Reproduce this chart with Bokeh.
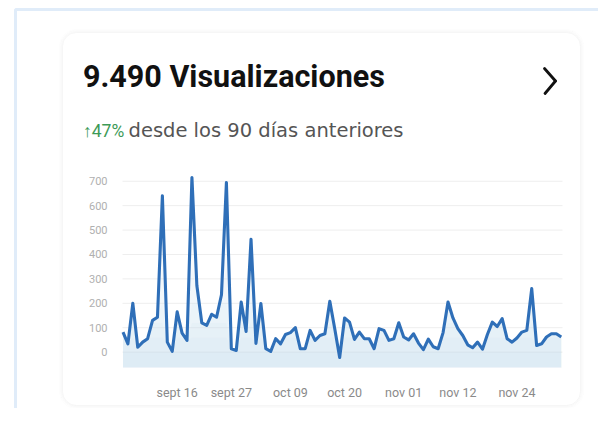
import numpy as np
from bokeh.plotting import figure
from bokeh.models import (Range1d, FixedTicker, Label, BoxAnnotation, Arrow,
                          LinearAxis)
from bokeh.embed import file_html
from bokeh.resources import INLINE

# ---- data ----
views = [82, 34, 200, 20, 41, 55, 130, 143, 640, 41,
         3, 165, 78, 48, 715, 273, 120, 110, 155, 143,
         235, 695, 14, 7, 205, 85, 462, 36, 199, 14,
         3, 55, 34, 72, 80, 100, 14, 14, 89, 48,
         68, 75, 208, 96, -22, 140, 123, 52, 82, 55,
         55, 14, 96, 89, 48, 55, 120, 62, 50, 75,
         37, 10, 53, 22, 14, 80, 205, 140, 96, 68,
         30, 18, 41, 12, 72, 123, 105, 137, 55, 41,
         58, 82, 89, 260, 27, 34, 62, 75, 75, 62]
days = list(range(len(views)))
tick_days = [11, 22, 34, 45, 57, 68, 80]
tick_labels = ["sept 16", "sept 27", "oct 09", "oct 20", "nov 01", "nov 12", "nov 24"]
y_ticks = [0, 100, 200, 300, 400, 500, 600, 700]
title_text = "9.490 Visualizaciones"
change_text = "\u219147%"
subtitle_text = "desde los 90 días anteriores"

# ---- layout constants (page pixels) ----
FONT = "Roboto"
SUB_FONT = "DejaVu Sans"
W, H = 598, 408
FR_L, FR_R, FR_T, FR_B = 122, 562, 170, 367   # chart region
X0, X1 = -0.1, 89.25                          # chart region in data units
Y0, Y1 = -63, 744


def dx(px):
    return X0 + (px - FR_L) * (X1 - X0) / (FR_R - FR_L)


def dy(py):
    return Y0 + (FR_B - py) * (Y1 - Y0) / (FR_B - FR_T)


p = figure(width=W, height=H, output_backend="svg", toolbar_location=None,
           x_range=Range1d(dx(0), dx(W)), y_range=Range1d(dy(H), dy(0)),
           x_axis_location=None, y_axis_location=None, min_border=0)
p.outline_line_color = None
p.background_fill_color = "white"
p.border_fill_color = "white"
p.xgrid.visible = False
p.ygrid.visible = False

# horizontal grid lines across the chart region
p.segment(x0=[X0] * len(y_ticks), x1=[X1] * len(y_ticks), y0=y_ticks, y1=y_ticks,
          line_color="#eeeeee", line_width=1)

# gradient-like fill under the line
vals = np.array(views, dtype=float)
for thr in [0, 60, 120, 200, 350, 800]:
    p.varea(x=days, y1=[Y0] * len(days), y2=np.minimum(vals, thr),
            fill_color="#c5dcf2", fill_alpha=0.12)

p.line(days, views, line_color="#2f6fb8", line_width=3.1, line_join="round")

# axes, pinned at the chart region edges
yaxis = LinearAxis(fixed_location=X0, ticker=FixedTicker(ticks=y_ticks))
xaxis = LinearAxis(fixed_location=Y0, ticker=FixedTicker(ticks=tick_days),
                   major_label_overrides={d: l for d, l in zip(tick_days, tick_labels)})
for ax in (xaxis, yaxis):
    ax.axis_line_color = None
    ax.major_tick_line_color = None
    ax.minor_tick_line_color = None
    ax.major_label_text_font = FONT
xaxis.major_label_text_font_size = "12.5px"
xaxis.major_label_text_color = "#8a8a8a"
xaxis.major_label_standoff = 11
yaxis.major_label_text_font_size = "11px"
yaxis.major_label_text_color = "#b0b0b0"
yaxis.major_label_standoff = 9
p.add_layout(yaxis, "left")
p.add_layout(xaxis, "below")

# header texts (y is the wanted baseline, corrected for Bokeh's text box)
p.add_layout(Label(x=dx(82.5), y=dy(86.7 - 0.35 * 30.5), text=title_text,
                   text_font=FONT, text_font_style="bold", text_font_size="30.5px",
                   text_color="#111111", text_baseline="alphabetic"))
p.add_layout(Label(x=dx(82.5), y=dy(137 - 0.35 * 17.5), text=change_text,
                   text_font=FONT, text_font_size="17.5px",
                   text_color="#3d9a57", text_baseline="alphabetic"))
p.add_layout(Label(x=dx(128), y=dy(137 - 0.35 * 19.5), text=subtitle_text,
                   text_font=SUB_FONT, text_font_size="19.5px",
                   text_color="#555555", text_baseline="alphabetic"))

# chevron
for (xs, ys, xe, ye) in [(544, 68, 555, 80.5), (555, 80.5, 544.5, 93)]:
    p.add_layout(Arrow(x_start=dx(xs), y_start=dy(ys), x_end=dx(xe), y_end=dy(ye),
                       end=None, line_color="#111111", line_width=2.8, line_cap="round"))

# outer blue frame
p.add_layout(BoxAnnotation(left=dx(15), right=dx(900), top=dy(9), bottom=dy(900),
                           fill_alpha=0, line_color="#98c0ec", line_width=3))

# card with soft shadow
for grow, col in [(3, "#f9f9f9"), (2, "#f3f3f3"), (1, "#ebebeb"), (0, "#e2e2e2")]:
    p.add_layout(BoxAnnotation(left=dx(62 - grow), right=dx(580 + grow),
                               top=dy(32 - grow), bottom=dy(405 + grow),
                               fill_alpha=0, line_color=col, line_width=1,
                               border_radius=14 + grow))

open("out.html", "w").write(file_html(p, INLINE))
